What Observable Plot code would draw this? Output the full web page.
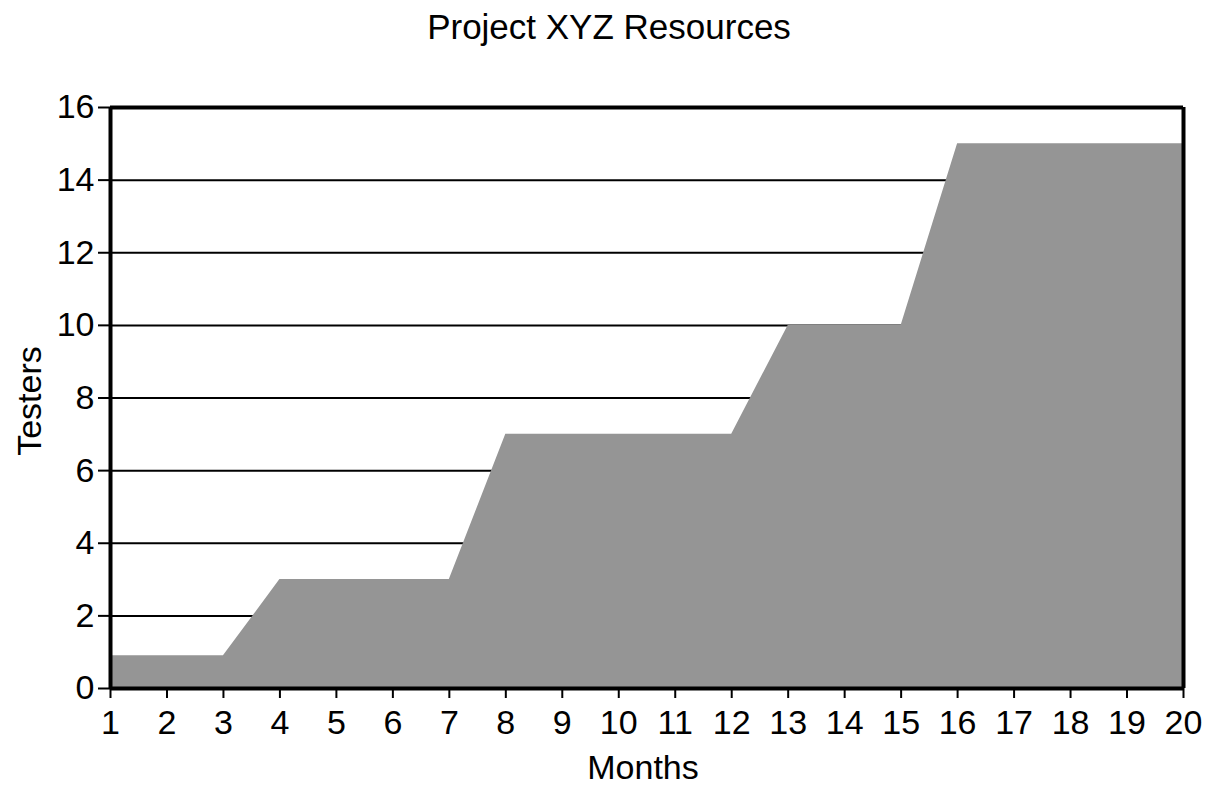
<!DOCTYPE html>
<html>
<head>
<meta charset="utf-8">
<script src="https://cdn.jsdelivr.net/npm/d3@7"></script>
<script src="https://cdn.jsdelivr.net/npm/@observablehq/plot@0.6"></script>
<style>
  body { margin: 0; background: #fff; }
  svg { font-family: "Liberation Sans", Arial, sans-serif; }
</style>
</head>
<body>
<div id="chart"></div>
<script>
const months = [1,2,3,4,5,6,7,8,9,10,11,12,13,14,15,16,17,18,19,20];
const testers = [0.9,0.9,0.9,3,3,3,3,7,7,7,7,7,10,10,10,15,15,15,15,15];
const yTicks = [0,2,4,6,8,10,12,14,16];
const gridLines = [2,4,6,8,10,12,14];
const title = "Project XYZ Resources";
const xLabel = "Months";
const yLabel = "Testers";

const data = months.map((m, i) => ({month: m, testers: testers[i]}));

const chart = Plot.plot({
  width: 1207,
  height: 786,
  marginLeft: 110,
  marginRight: 24,
  marginTop: 107,
  marginBottom: 98,
  style: {fontFamily: "'Liberation Sans', Arial, sans-serif", fontSize: "34px", color: "#000", background: "#fff"},
  x: {domain: [1, 20], label: null},
  y: {domain: [0, 16], label: null},
  marks: [
    Plot.axisX({ticks: months, tickFormat: d => String(d), tickSize: 10, tickPadding: 11, fontSize: 34, strokeWidth: 2, stroke: "#000", fill: "#000", label: null}),
    Plot.axisY({ticks: yTicks, tickSize: 12, tickPadding: 4, fontSize: 34, strokeWidth: 2, stroke: "#000", fill: "#000", label: null}),
    Plot.ruleY(gridLines, {stroke: "#000", strokeWidth: 2}),
    Plot.areaY(data, {x: "month", y: "testers", fill: "#959595"}),
    Plot.ruleX([1], {stroke: "#000", strokeWidth: 4}),
    Plot.ruleX([20], {stroke: "#000", strokeWidth: 4}),
    Plot.ruleY([0], {stroke: "#000", strokeWidth: 4}),
    Plot.ruleY([16], {stroke: "#000", strokeWidth: 4}),
    Plot.text([title], {frameAnchor: "top", lineAnchor: "middle", dy: -80, dx: -38, fontSize: 35, fill: "#000"}),
    Plot.text([xLabel], {frameAnchor: "bottom", lineAnchor: "middle", dy: 80, dx: -4, fontSize: 34, fill: "#000"}),
    Plot.text([yLabel], {frameAnchor: "left", textAnchor: "middle", lineAnchor: "middle", dx: -80, dy: 3, rotate: -90, fontSize: 34, fill: "#000"})
  ]
});
document.getElementById("chart").appendChild(chart);
</script>
</body>
</html>
